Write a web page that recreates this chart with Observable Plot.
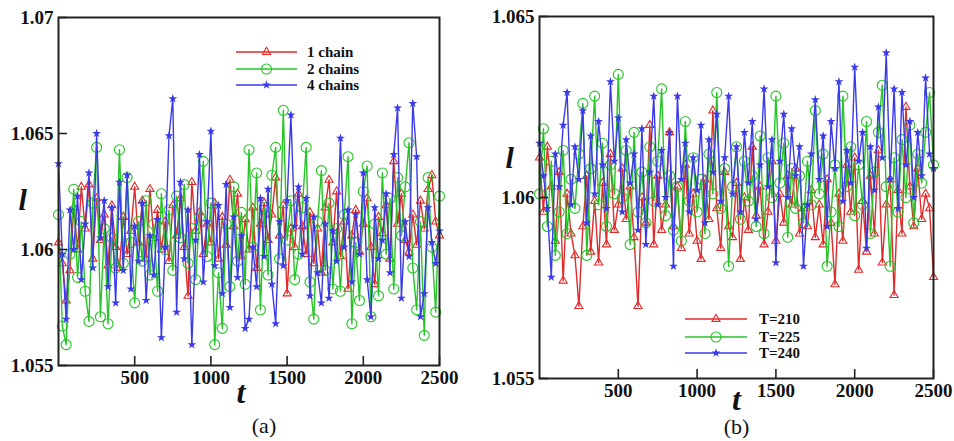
<!DOCTYPE html>
<html><head><meta charset="utf-8">
<script src="https://cdn.jsdelivr.net/npm/d3@7"></script>
<script src="https://cdn.jsdelivr.net/npm/@observablehq/plot@0.6"></script>
<style>
body{margin:0;background:#fff;}
#wrap{position:relative;width:954px;height:441px;display:flex;}
.panel{position:relative;width:477px;height:441px;}
.panel svg.leg{position:absolute;left:0;top:0;pointer-events:none;}
</style></head><body><div id="wrap"></div>
<script>
// time steps (sampling instants)
const t = d3.range(0, 2501, 25);

// panel (a)
const chain1 = [1.0603,1.0594,1.0578,1.0591,1.0618,1.0600,1.0627,1.0609,1.0628,1.0596,
1.0622,1.0604,1.0615,1.0593,1.0619,1.0601,1.0592,1.0614,1.0598,1.0608,
1.0627,1.0603,1.0621,1.0596,1.0626,1.0605,1.0617,1.0600,1.0612,1.0595,
1.0619,1.0606,1.0622,1.0601,1.0580,1.0629,1.0608,1.0616,1.0598,1.0611,
1.0603,1.0620,1.0596,1.0614,1.0602,1.0630,1.0610,1.0624,1.0597,1.0613,
1.0600,1.0618,1.0592,1.0611,1.0620,1.0604,1.0615,1.0631,1.0606,1.0619,
1.0581,1.0609,1.0601,1.0624,1.0610,1.0598,1.0616,1.0594,1.0609,1.0590,
1.0618,1.0630,1.0603,1.0625,1.0597,1.0612,1.0583,1.0606,1.0617,1.0599,
1.0611,1.0622,1.0601,1.0585,1.0614,1.0607,1.0619,1.0596,1.0638,1.0611,
1.0624,1.0604,1.0599,1.0615,1.0602,1.0621,1.0609,1.0626,1.0632,1.0612,1.0606];
const chain2 = [1.0615,1.0567,1.0559,1.0598,1.0626,1.0588,1.0612,1.0582,1.0569,1.0620,
1.0644,1.0571,1.0609,1.0568,1.0605,1.0592,1.0643,1.0594,1.0631,1.0603,
1.0577,1.0612,1.0595,1.0621,1.0589,1.0611,1.0582,1.0624,1.0600,1.0617,
1.0591,1.0623,1.0605,1.0628,1.0594,1.0609,1.0587,1.0614,1.0638,1.0597,
1.0620,1.0559,1.0590,1.0566,1.0611,1.0584,1.0627,1.0595,1.0616,1.0585,
1.0643,1.0601,1.0633,1.0574,1.0618,1.0589,1.0632,1.0644,1.0596,1.0660,
1.0604,1.0621,1.0587,1.0598,1.0618,1.0644,1.0586,1.0570,1.0612,1.0634,
1.0591,1.0620,1.0583,1.0609,1.0582,1.0615,1.0640,1.0568,1.0603,1.0578,
1.0625,1.0636,1.0571,1.0611,1.0580,1.0633,1.0598,1.0622,1.0583,1.0631,
1.0606,1.0627,1.0646,1.0592,1.0574,1.0612,1.0563,1.0631,1.0601,1.0573,1.0623];
const chain4 = [1.0637,1.0598,1.0570,1.0617,1.0600,1.0623,1.0587,1.0611,1.0633,1.0592,
1.0650,1.0605,1.0621,1.0584,1.0618,1.0577,1.0629,1.0591,1.0632,1.0583,
1.0610,1.0595,1.0620,1.0578,1.0606,1.0589,1.0613,1.0562,1.0601,1.0649,
1.0665,1.0573,1.0629,1.0596,1.0617,1.0559,1.0604,1.0641,1.0586,1.0612,
1.0651,1.0593,1.0619,1.0581,1.0628,1.0575,1.0614,1.0588,1.0606,1.0566,
1.0570,1.0601,1.0584,1.0622,1.0597,1.0626,1.0585,1.0568,1.0612,1.0593,
1.0621,1.0658,1.0610,1.0627,1.0598,1.0622,1.0580,1.0614,1.0590,1.0577,
1.0611,1.0579,1.0608,1.0595,1.0648,1.0601,1.0617,1.0586,1.0615,1.0598,
1.0633,1.0587,1.0571,1.0618,1.0596,1.0604,1.0624,1.0590,1.0641,1.0661,
1.0579,1.0612,1.0597,1.0663,1.0640,1.0571,1.0581,1.0618,1.0603,1.0594,1.0608];

// panel (b)
const T210 = [1.0611,1.0596,1.0614,1.0603,1.0588,1.0607,1.0577,1.0601,1.0590,1.0584,
1.0570,1.0592,1.0606,1.0585,1.0599,1.0582,1.0604,1.0587,1.0612,1.0591,
1.0598,1.0608,1.0594,1.0603,1.0589,1.0570,1.0600,1.0593,1.0620,1.0587,
1.0606,1.0591,1.0598,1.0618,1.0592,1.0603,1.0586,1.0609,1.0590,1.0601,
1.0588,1.0583,1.0605,1.0594,1.0624,1.0597,1.0586,1.0607,1.0592,1.0589,
1.0604,1.0583,1.0600,1.0591,1.0614,1.0595,1.0603,1.0587,1.0596,1.0610,
1.0588,1.0601,1.0593,1.0606,1.0598,1.0608,1.0590,1.0597,1.0592,1.0602,
1.0589,1.0598,1.0587,1.0605,1.0593,1.0576,1.0601,1.0588,1.0609,1.0596,
1.0611,1.0580,1.0599,1.0585,1.0606,1.0590,1.0613,1.0582,1.0598,1.0605,
1.0573,1.0602,1.0590,1.0625,1.0603,1.0592,1.0608,1.0594,1.0601,1.0597,1.0578];
const T225 = [1.0601,1.0619,1.0592,1.0610,1.0584,1.0596,1.0613,1.0590,1.0605,1.0597,
1.0612,1.0626,1.0584,1.0608,1.0628,1.0598,1.0615,1.0592,1.0609,1.0601,
1.0634,1.0600,1.0613,1.0587,1.0618,1.0596,1.0607,1.0593,1.0614,1.0599,
1.0610,1.0630,1.0595,1.0606,1.0591,1.0603,1.0588,1.0621,1.0599,1.0611,
1.0596,1.0605,1.0590,1.0612,1.0601,1.0629,1.0597,1.0608,1.0581,1.0603,
1.0614,1.0594,1.0610,1.0599,1.0606,1.0592,1.0617,1.0590,1.0611,1.0600,
1.0628,1.0604,1.0615,1.0589,1.0608,1.0597,1.0606,1.0593,1.0610,1.0598,
1.0624,1.0601,1.0612,1.0581,1.0596,1.0609,1.0592,1.0628,1.0603,1.0614,
1.0595,1.0609,1.0598,1.0621,1.0590,1.0607,1.0618,1.0631,1.0603,1.0581,
1.0611,1.0596,1.0616,1.0600,1.0620,1.0593,1.0612,1.0604,1.0618,1.0629,1.0609];
const T240 = [1.0615,1.0606,1.0597,1.0578,1.0612,1.0603,1.0620,1.0629,1.0598,1.0614,
1.0605,1.0624,1.0593,1.0617,1.0601,1.0621,1.0609,1.0597,1.0632,1.0610,
1.0622,1.0596,1.0616,1.0604,1.0612,1.0591,1.0619,1.0587,1.0607,1.0628,
1.0598,1.0613,1.0600,1.0618,1.0581,1.0628,1.0605,1.0615,1.0596,1.0611,
1.0602,1.0620,1.0593,1.0616,1.0607,1.0623,1.0599,1.0611,1.0628,1.0601,
1.0614,1.0596,1.0618,1.0604,1.0621,1.0594,1.0609,1.0630,1.0603,1.0616,
1.0582,1.0610,1.0623,1.0600,1.0619,1.0606,1.0614,1.0581,1.0598,1.0612,
1.0627,1.0605,1.0617,1.0592,1.0621,1.0608,1.0632,1.0599,1.0613,1.0604,
1.0636,1.0610,1.0618,1.0586,1.0614,1.0602,1.0625,1.0611,1.0640,1.0605,
1.0630,1.0597,1.0629,1.0609,1.0621,1.0600,1.0618,1.0606,1.0633,1.0612,1.0608];

const namesA = ["1 chain", "2 chains", "4 chains"];
const namesB = ["T=210", "T=225", "T=240"];
const yTicksA = [1.055, 1.06, 1.065, 1.07];
const yTicksB = [1.055, 1.06, 1.065];
const xTicks = [500, 1000, 1500, 2000, 2500];

const colors = ["#e12a2a", "#26c426", "#3a3ae8"];
const symbols = ["triangle", "circle", "star"];
const radii = [3, 5, 2.8];
const SERIF = "'Liberation Serif','Times New Roman',serif";

function makePanel(seriesList, names, cfg) {
  const marks = [];
  seriesList.forEach((vals, k) => {
    const data = t.map((x, i) => ({t: x, v: vals[i]}));
    marks.push(Plot.line(data, {x: "t", y: "v", stroke: colors[k], strokeWidth: 1.4}));
    marks.push(Plot.dot(data, {
      x: "t", y: "v", symbol: symbols[k], r: radii[k],
      stroke: k < 2 ? colors[k] : "none", fill: k < 2 ? "none" : colors[k], strokeWidth: 1.1
    }));
  });
  const fontOpts = {fontFamily: SERIF, fontWeight: "bold", fontSize: 19};
  const fmt = d => String(d);
  marks.push(
    Plot.frame({stroke: "#222", strokeWidth: 2}),
    Plot.axisY(cfg.yTicks, {stroke: "none", tickSize: 0, tickPadding: 5, tickFormat: fmt, label: null, fill: "#111", ...fontOpts}),
    Plot.axisY(cfg.yTicks, {fill: "none", tickSize: -9, strokeWidth: 1.6, stroke: "#222", label: null}),
    Plot.axisX(xTicks, {stroke: "none", tickSize: 0, tickPadding: 5, tickFormat: fmt, label: null, fill: "#111", ...fontOpts}),
    Plot.axisX(xTicks, {fill: "none", tickSize: -9, strokeWidth: 1.6, stroke: "#222", label: null}),
    Plot.text(["l"], {frameAnchor: "left", dx: cfg.lDx, dy: cfg.lDy, text: d => d, fontFamily: SERIF, fontWeight: "bold", fontStyle: "italic", fontSize: 30, fill: "#111"}),
    Plot.text(["t"], {frameAnchor: "bottom", dx: cfg.tDx, dy: cfg.tDy, text: d => d, fontFamily: SERIF, fontWeight: "bold", fontStyle: "italic", fontSize: 32, fill: "#111"}),
    Plot.text([cfg.caption], {frameAnchor: "bottom", dx: cfg.cDx, dy: cfg.cDy, text: d => d, fontFamily: SERIF, fontWeight: "normal", fontSize: 22, fill: "#111"})
  );
  const svg = Plot.plot({
    width: 477, height: 441,
    marginLeft: cfg.ml, marginRight: cfg.mr, marginTop: cfg.mt, marginBottom: cfg.mb,
    x: {domain: [0, 2500], axis: null},
    y: {domain: cfg.yDomain, axis: null},
    style: {fontFamily: SERIF, fontSize: "18px", background: "white", overflow: "visible"},
    marks
  });
  const div = document.createElement("div");
  div.className = "panel";
  div.appendChild(svg);

  // legend
  const leg = d3.create("svg").attr("class", "leg").attr("width", 477).attr("height", 441);
  names.forEach((name, k) => {
    const y = cfg.legY[k];
    const g = leg.append("g");
    g.append("line").attr("x1", cfg.legX1).attr("x2", cfg.legX2).attr("y1", y).attr("y2", y)
      .attr("stroke", colors[k]).attr("stroke-width", 1.6);
    const sym = d3.symbol().type(k === 0 ? d3.symbolTriangle : k === 1 ? d3.symbolCircle : d3.symbolStar)
      .size(Math.PI * radii[k] * radii[k]);
    g.append("path").attr("d", sym()).attr("transform", `translate(${(cfg.legX1 + cfg.legX2) / 2},${y})`)
      .attr("fill", k < 2 ? "none" : colors[k]).attr("stroke", k < 2 ? colors[k] : "none").attr("stroke-width", 1.1);
    g.append("text").attr("x", cfg.legTx).attr("y", y).attr("dy", "0.35em")
      .attr("font-family", SERIF).attr("font-weight", "bold").attr("font-size", 15).attr("fill", "#111").text(name);
  });
  div.appendChild(leg.node());
  return div;
}

const wrap = document.getElementById("wrap");
wrap.appendChild(makePanel([chain1, chain2, chain4], namesA, {
  ml: 58, mr: 38, mt: 17, mb: 76, yDomain: [1.055, 1.07], yTicks: yTicksA,
  lDx: -40, lDy: 9, tDx: -8, tDy: 37, cDx: 15, cDy: 67, caption: "(a)",
  legX1: 236, legX2: 297, legY: [52, 69, 85], legTx: 307
}));
wrap.appendChild(makePanel([T210, T225, T240], namesB, {
  ml: 62, mr: 21, mt: 16, mb: 63, yDomain: [1.055, 1.065], yTicks: yTicksB,
  lDx: -34, lDy: -39, tDx: 0, tDy: 31, cDx: 0, cDy: 55, caption: "(b)",
  legX1: 208, legX2: 270, legY: [319, 337, 353], legTx: 282
}));
</script>
</body></html>
